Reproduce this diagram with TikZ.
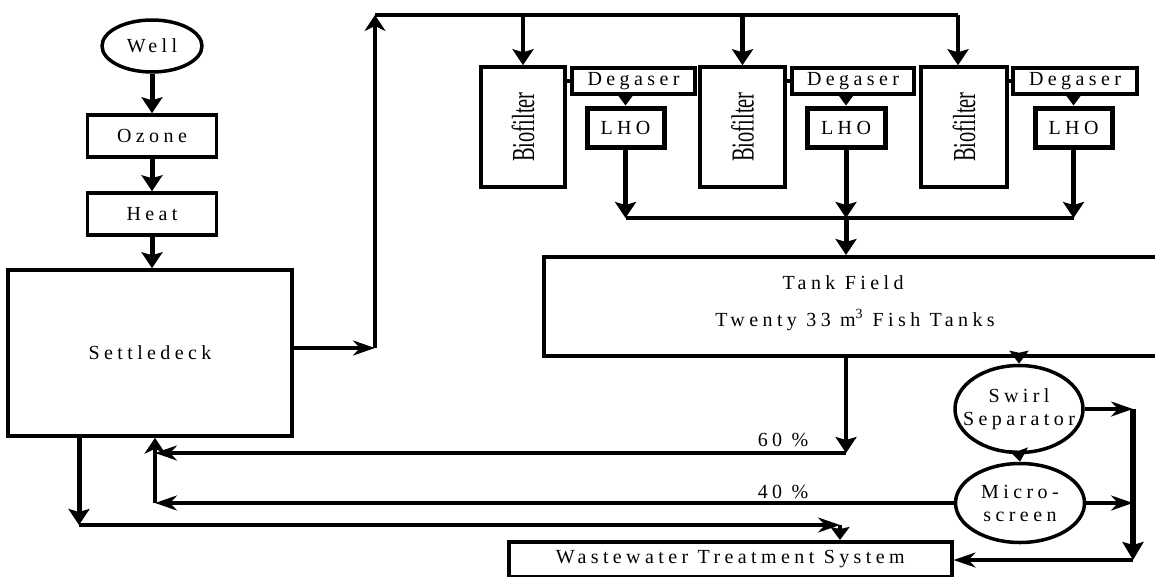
\documentclass[tikz,border=0pt]{standalone}
\usepackage{fontspec}
\usepackage{graphicx}
\setmainfont{Liberation Serif}
\newfontfamily\spacedfont[LetterSpace=22]{Liberation Serif}
\newfontfamily\biofont{Liberation Serif}
\usetikzlibrary{arrows.meta,shapes.geometric}
\newcommand\lblfont{\spacedfont\fontsize{20}{23}\selectfont}
\newcommand\biotext{\rotatebox{90}{\scalebox{0.64}[1]{\biofont\fontsize{32}{32}\selectfont Biofilter}}}
\tikzset{
 box/.style={draw, rectangle, line width=3.5pt, inner sep=0pt, font=\lblfont},
 ell/.style={draw, ellipse, line width=3.5pt, inner sep=0pt, font=\lblfont, align=center},
 lbl/.style={inner sep=0pt, font=\lblfont},
 ln/.style={line width=3.5pt},
 tk/.style={line width=5pt, -{Stealth[length=16pt,width=21pt,inset=3pt]}},
 tkm/.style={line width=4pt, -{Stealth[length=16pt,width=21pt,inset=3pt]}},
 tks/.style={line width=4pt, -{Stealth[length=13pt,width=19pt,inset=2pt]}},
 tn/.style={line width=3.5pt, -{Stealth[length=22pt,width=15pt,inset=7pt]}},
 tnu/.style={line width=3.5pt, -{Stealth[length=16pt,width=21pt,inset=5pt]}},
}
\begin{document}
\begin{tikzpicture}[x=1pt,y=-1pt]
\useasboundingbox (0,0) rectangle (1155,576);
\clip (0,0) rectangle (1155,576);
% left column
\node[ell, minimum width=100pt, minimum height=52pt] (well) at (152,46) {Well};
\node[box, minimum width=129pt, minimum height=42pt] (ozone) at (152,136) {Ozone};
\node[box, minimum width=129pt, minimum height=42pt] (heat) at (152,214) {Heat};
\node[box, minimum width=284pt, minimum height=166pt] (settle) at (150,353) {Settledeck};
% biofilters
\node[box, minimum width=84pt, minimum height=120pt] (bio1) at (523,127) {\biotext};
\node[box, minimum width=85pt, minimum height=120pt] (bio2) at (742.5,127) {\biotext};
\node[box, minimum width=86pt, minimum height=120pt] (bio3) at (964,127) {\biotext};
\node[box, line width=4pt, minimum width=123pt, minimum height=26pt] (deg1) at (633.5,81) {Degaser};
\node[box, line width=4pt, minimum width=122pt, minimum height=26pt] (deg2) at (853,81) {Degaser};
\node[box, line width=4pt, minimum width=124pt, minimum height=26pt] (deg3) at (1075,81) {Degaser};
\node[box, line width=5pt, minimum width=77pt, minimum height=39pt] (lho1) at (625.5,127.5) {LHO};
\node[box, line width=5pt, minimum width=78pt, minimum height=39pt] (lho2) at (846,127.5) {LHO};
\node[box, line width=5pt, minimum width=77pt, minimum height=39pt] (lho3) at (1073.5,127.5) {LHO};
% tank field
\node[box, anchor=north west, minimum width=640pt, minimum height=99pt] (tank) at (542,255) {};
\node[lbl] (tf1) at (843,283) {Tank Field};
\node[lbl] (tf2) at (855,320) {Twenty 33 m\textsuperscript{3} Fish Tanks};
% separators
\node[ell, minimum width=128pt, minimum height=87pt] (swirl) at (1019,409) {\makebox[0pt]{Swirl}\\\makebox[0pt]{Separator}};
\node[ell, minimum width=129pt, minimum height=79pt] (micro) at (1020,503) {\makebox[0pt]{Micro-}\\\makebox[0pt]{screen}};
% wastewater
\node[box, anchor=north west, minimum width=443pt, minimum height=35pt] (wwt) at (507,540) {Wastewater Treatment System};
% labels
\node[lbl] (p60) at (783,440) {60 \%};
\node[lbl] (p40) at (783,492) {40 \%};
% coordinates
\coordinate (sx) at (375,348);
\coordinate (top) at (375,15);
\coordinate (dend) at (958,15);
\coordinate (c1) at (625.5,218);
\coordinate (c2) at (846,218);
\coordinate (c3) at (1073.5,218);
\coordinate (r60) at (846,453);
\coordinate (ret) at (155,453);
\coordinate (ret40) at (155,503);
\coordinate (dl) at (79,525);
\coordinate (wr) at (840,525);
\coordinate (rv1) at (1133,409);
\coordinate (rv2) at (1133,560);
% connectors
\draw[tk] (well) -- (ozone);
\draw[tk] (ozone) -- (heat);
\draw[tk] (heat.south) -- (heat.south |- settle.north);
\draw[tn] (settle.east |- sx) -- (sx);
\draw[tnu] (sx) -- (top);
\draw[ln] (top) -- (dend);
\draw[tkm] (top -| bio1.north) -- (bio1.north);
\draw[tk] (top -| bio2.north) -- (bio2.north);
\draw[tkm] (dend) -- (dend |- bio3.north);
\draw[ln] (bio1.east |- deg1.west) -- (deg1.west);
\draw[ln] (bio2.east |- deg2.west) -- (deg2.west);
\draw[ln] (bio3.east |- deg3.west) -- (deg3.west);
\draw[tks] (deg1.south -| lho1.north) -- (lho1.north);
\draw[tks] (deg2.south -| lho2.north) -- (lho2.north);
\draw[tks] (deg3.south -| lho3.north) -- (lho3.north);
\draw[tk] (lho1.south) -- (c1);
\draw[tk] (lho2.south) -- (c2);
\draw[tk] (lho3.south) -- (c3);
\draw[ln] (c1) -- (c3);
\draw[tk] (c2) -- (c2 |- tank.north);
\draw[tkm] (c2 |- tank.south) -- (r60);
\draw[tn] (r60) -- (ret);
\draw[tn] (micro.west) -- (ret40);
\draw[tnu] (ret40) -- (ret40 |- settle.south);
\draw[tk] (settle.south -| dl) -- (dl);
\draw[tn] (dl) -- (wr);
\draw[tks] (wr) -- (wr |- wwt.north);
\draw[tks] (tank.south -| swirl.north) -- (swirl.north);
\draw[tks] (swirl.south) -- (micro.north);
\draw[tn] (swirl.east) -- (rv1);
\draw[tn] (micro.east) -- (micro.east -| rv1);
\draw[line width=6pt, -{Stealth[length=18pt,width=21pt,inset=3pt]}] (rv1) -- (rv2);
\draw[tn] (rv2) -- (rv2 -| wwt.east);
\end{tikzpicture}
\end{document}
